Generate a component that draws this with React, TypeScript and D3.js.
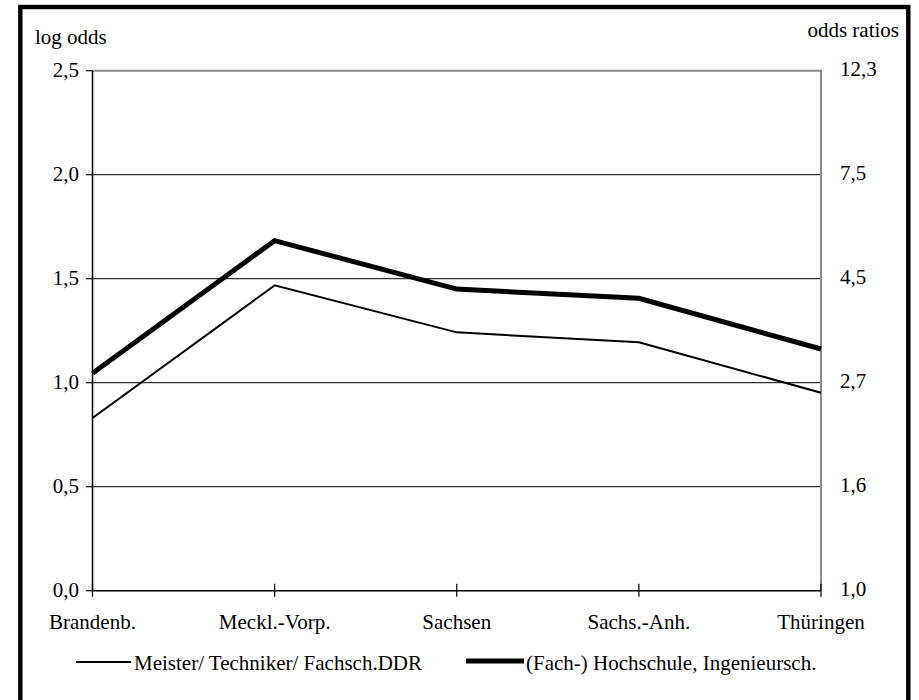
import React from "react";
import * as d3 from "d3";

const categories = ["Brandenb.", "Meckl.-Vorp.", "Sachsen", "Sachs.-Anh.", "Thüringen"];
const meisterValues = [0.83, 1.468, 1.242, 1.194, 0.952];
const hochschuleValues = [1.045, 1.683, 1.45, 1.406, 1.162];
const leftTicks = [0, 0.5, 1.0, 1.5, 2.0, 2.5];
const leftTickLabels = ["0,0", "0,5", "1,0", "1,5", "2,0", "2,5"];
const rightTickLabels = ["1,0", "1,6", "2,7", "4,5", "7,5", "12,3"];
const seriesNames = ["Meister/ Techniker/ Fachsch.DDR", "(Fach-) Hochschule, Ingenieursch."];

const W = 919;
const H = 700;
const FONT = "Liberation Serif, Times New Roman, DejaVu Serif, serif";
const ts: React.CSSProperties = { fontFamily: FONT, fontSize: "21px" };

export default function App() {
  const x = d3.scalePoint<string>().domain(categories).range([92.5, 821]).padding(0);
  const y = d3.scaleLinear().domain([0, 2.5]).range([590.7, 70.7]);
  const line = d3
    .line<number>()
    .x((_, i) => x(categories[i]) as number)
    .y((d) => y(d));

  const x0 = x.range()[0];
  const x1 = x.range()[1];

  return (
    <svg
      width={W}
      height={H}
      style={{ position: "absolute", left: 0, top: 0, background: "#fff", fontFamily: FONT }}
    >
      <rect x={0} y={0} width={W} height={H} fill="#fff" />
      {leftTicks.map((t, i) =>
        t === 0 ? null : (
          <line
            key={"g" + i}
            x1={x0}
            x2={x1}
            y1={y(t)}
            y2={y(t)}
            stroke={t === 2.5 ? "#8c8c8c" : "#000"}
            strokeWidth={t === 2.5 ? 2 : 1}
          />
        )
      )}
      <line x1={x1} x2={x1} y1={y(2.5) - 1} y2={y(0)} stroke="#8c8c8c" strokeWidth={2} />
      <line x1={x0} x2={x0} y1={y(2.5)} y2={y(0)} stroke="#000" strokeWidth={1.5} />
      <line x1={x0} x2={x1} y1={y(0)} y2={y(0)} stroke="#000" strokeWidth={1.5} />
      {leftTicks.map((t, i) => (
        <g key={"lt" + i}>
          <line x1={86} x2={x0} y1={y(t)} y2={y(t)} stroke="#000" strokeWidth={1.2} />
          <text x={79} y={y(t) + 6.5} textAnchor="end" style={ts} fill="#000">
            {leftTickLabels[i]}
          </text>
        </g>
      ))}
      {leftTicks.map((t, i) => (
        <text key={"rt" + i} x={840} y={y(t) + 5} textAnchor="start" style={ts} fill="#000">
          {rightTickLabels[i]}
        </text>
      ))}
      {categories.map((c) => (
        <g key={c}>
          <line x1={x(c)} x2={x(c)} y1={y(0) - 7} y2={y(0) + 6} stroke="#000" strokeWidth={1.2} />
          <text x={x(c)} y={629} textAnchor="middle" style={ts} fill="#000">
            {c}
          </text>
        </g>
      ))}
      <text x={35} y={44} style={ts} fill="#000">
        log odds
      </text>
      <text x={899} y={37} textAnchor="end" style={ts} fill="#000">
        odds ratios
      </text>
      <path d={line(meisterValues) || ""} fill="none" stroke="#000" strokeWidth={2} strokeLinejoin="miter" />
      <path d={line(hochschuleValues) || ""} fill="none" stroke="#000" strokeWidth={5} strokeLinejoin="miter" />
      <line x1={76} x2={131} y1={662} y2={662} stroke="#000" strokeWidth={2} />
      <text x={134} y={670} style={ts} fill="#000">
        {seriesNames[0]}
      </text>
      <line x1={466} x2={524} y1={661} y2={661} stroke="#000" strokeWidth={5} />
      <text x={526} y={670} style={ts} fill="#000">
        {seriesNames[1]}
      </text>
      <rect x={20.3} y={7} width={888} height={720} fill="none" stroke="#000" strokeWidth={4.4} />
    </svg>
  );
}
